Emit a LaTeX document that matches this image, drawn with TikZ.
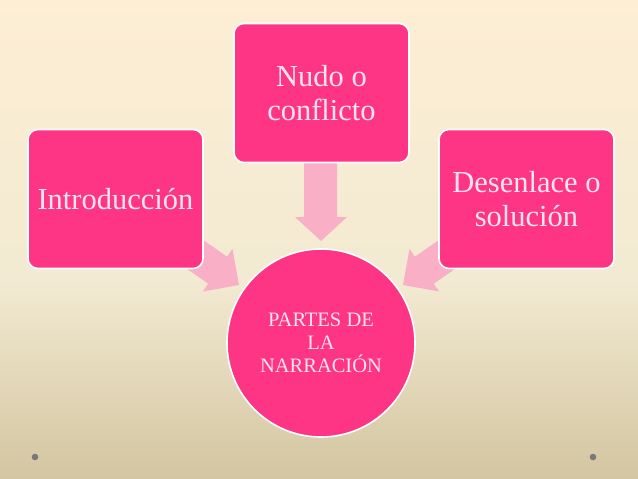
\documentclass[tikz,border=0pt]{standalone}
\usepackage{fontspec}
\setmainfont{Liberation Serif}
\begin{document}
\begin{tikzpicture}[x=1pt,y=-1pt,
  box/.style={draw=white,line width=1.6pt,fill=boxpink,rounded corners=10pt,minimum width=175pt,minimum height=139pt,text=textpink,font=\fontsize{30.5}{34}\selectfont,align=center,inner sep=0pt},
  blockarrow/.style={fill=arrowpink,draw=none}]
\definecolor{boxpink}{HTML}{FD3584}
\definecolor{arrowpink}{HTML}{F9AFC6}
\definecolor{textpink}{HTML}{FDE4EE}
\definecolor{bgtop}{HTML}{FDEED4}
\definecolor{bgmid}{HTML}{F2EAD2}
\definecolor{bgbot}{HTML}{D3C5A0}
\useasboundingbox (0,0) rectangle (638,479);
\shade[top color=bgtop,bottom color=bgmid] (0,0) rectangle (638,280.5);
\shade[top color=bgmid,bottom color=bgbot] (0,280) rectangle (638,479);
% dots
\fill[gray!95!black] (35,457) circle (3.3pt);
\fill[gray!95!black] (593,457) circle (3.3pt);
% arrows
\fill[blockarrow] (304,150) -- (337,150) -- (337,217) -- (347,217) -- (321,241) -- (295,217) -- (304,217) -- cycle;
\fill[blockarrow] (175.5,260.9) -- (208.3,283.7) -- (202.9,291.5) -- (239,285) -- (232.5,248.9) -- (227.1,256.7) -- (194.3,233.9) -- cycle;
\fill[blockarrow] (466.5,260.9) -- (433.7,283.7) -- (439.1,291.5) -- (403,285) -- (409.5,248.9) -- (414.9,256.7) -- (447.7,233.9) -- cycle;
% boxes
\node[box] (intro) at (115.5,199) {Introducción};
\node[box] (nudo) at (321.5,93) {Nudo o\\conflicto};
\node[box] (des) at (526.5,199) {Desenlace o\\solución};
\node[circle,draw=white,line width=1.6pt,fill=boxpink,minimum size=188pt,text=textpink,font=\fontsize{20.5}{23}\selectfont,align=center,inner sep=0pt] (center) at (321,343) {PARTES DE\\LA\\NARRACIÓN};
\end{tikzpicture}
\end{document}
